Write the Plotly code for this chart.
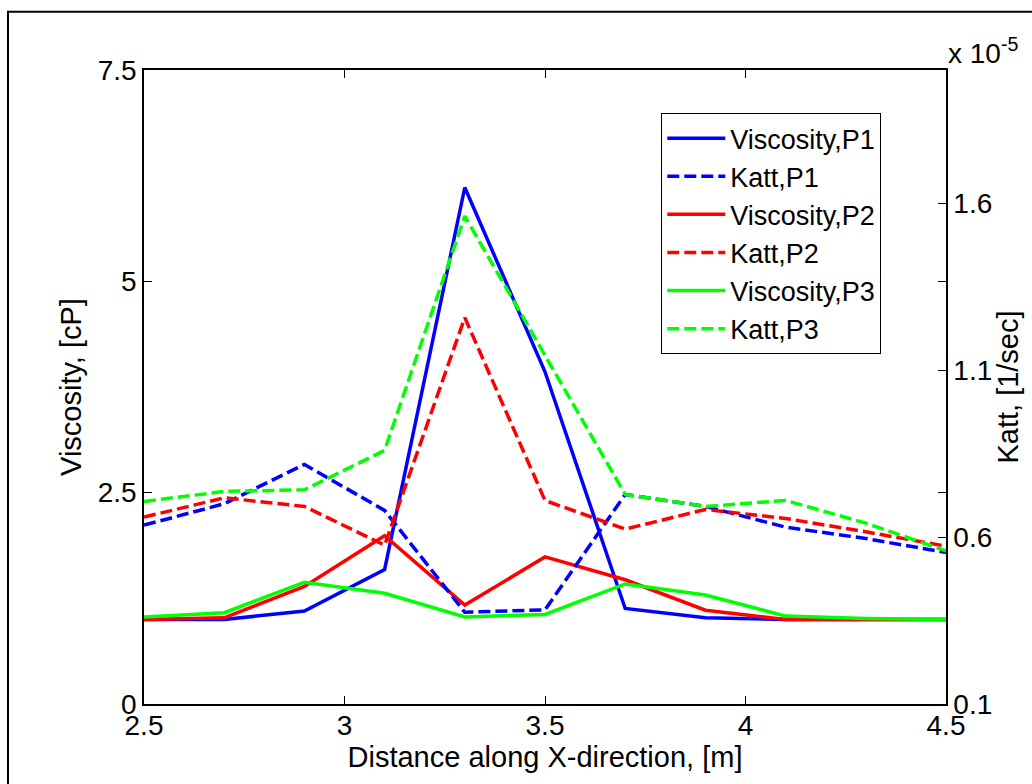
import plotly.graph_objects as go

# Sample positions along the X-direction [m]
distance = [2.5, 2.7, 2.9, 3.1, 3.3, 3.5, 3.7, 3.9, 4.1, 4.3, 4.5]

# Viscosity [cP] for the three profiles
visc_p1 = [1.00, 1.00, 1.10, 1.59, 6.11, 3.93, 1.13, 1.02, 1.00, 1.00, 1.00]
visc_p2 = [1.00, 1.02, 1.39, 1.99, 1.17, 1.74, 1.47, 1.11, 1.00, 1.00, 1.00]
visc_p3 = [1.03, 1.08, 1.44, 1.31, 1.03, 1.06, 1.42, 1.29, 1.04, 1.01, 1.00]

# Attachment rate Katt [1/sec], in units of 1e-5
katt_p1 = [0.636, 0.700, 0.818, 0.680, 0.375, 0.382, 0.728, 0.692, 0.630, 0.596, 0.554]
katt_p2 = [0.660, 0.718, 0.692, 0.576, 1.258, 0.710, 0.624, 0.683, 0.656, 0.616, 0.573]
katt_p3 = [0.707, 0.737, 0.742, 0.860, 1.562, 1.145, 0.728, 0.692, 0.710, 0.642, 0.559]

# Axis ticks
x_ticks = [2.5, 3, 3.5, 4, 4.5]
x_tick_text = ["2.5", "3", "3.5", "4", "4.5"]
visc_ticks = [0, 2.5, 5, 7.5]
visc_tick_text = ["0", "2.5", "5", "7.5"]
katt_ticks = [0.1, 0.6, 1.1, 1.6]
katt_tick_text = ["0.1", "0.6", "1.1", "1.6"]

BLUE, RED, GREEN = "#0000FF", "#FF0000", "#00FF00"
FONT = "Liberation Sans, Arial, sans-serif"
DASH = "12px,5px"
LW = 3.5

fig = go.Figure()

series = [
    ("Viscosity,P1", visc_p1, BLUE, "solid", "y"),
    ("Katt,P1", katt_p1, BLUE, DASH, "y2"),
    ("Viscosity,P2", visc_p2, RED, "solid", "y"),
    ("Katt,P2", katt_p2, RED, DASH, "y2"),
    ("Viscosity,P3", visc_p3, GREEN, "solid", "y"),
    ("Katt,P3", katt_p3, GREEN, DASH, "y2"),
]
for name, vals, color, dash, axis in series:
    fig.add_trace(go.Scatter(
        x=distance, y=vals, name=name, mode="lines", yaxis=axis,
        line=dict(color=color, width=LW, dash=dash),
    ))

axis_common = dict(
    showline=True, linecolor="black", linewidth=1.5,
    ticks="inside", ticklen=8, tickcolor="black", tickwidth=1.2,
    showgrid=False, zeroline=False,
    tickfont=dict(family=FONT, size=28, color="black"),
)

fig.update_layout(
    width=1032, height=784,
    margin=dict(l=144, r=86, t=70, b=80),
    paper_bgcolor="white", plot_bgcolor="white",
    font=dict(family=FONT, color="black"),
    xaxis=dict(
        range=[2.5, 4.5], tickvals=x_ticks, ticktext=x_tick_text,
        mirror="ticks", ticklabelstandoff=-4,
        title=dict(text="Distance along X-direction, [m]",
                   font=dict(family=FONT, size=29, color="black"), standoff=0),
        **axis_common,
    ),
    yaxis=dict(
        range=[0, 7.5], tickvals=visc_ticks, ticktext=visc_tick_text,
        mirror="ticks",
        title=dict(text="Viscosity, [cP]",
                   font=dict(family=FONT, size=29, color="black"), standoff=8),
        **axis_common,
    ),
    yaxis2=dict(
        range=[0.1, 2.0], tickvals=katt_ticks, ticktext=katt_tick_text,
        overlaying="y", side="right",
        title=dict(text="Katt, [1/sec]",
                   font=dict(family=FONT, size=29, color="black"), standoff=6),
        **axis_common,
    ),
    legend=dict(
        x=0.645, y=0.932, xanchor="left", yanchor="top",
        bgcolor="white", bordercolor="black", borderwidth=1,
        font=dict(family=FONT, size=27, color="black"),
        itemwidth=58, tracegroupgap=0,
    ),
    showlegend=True,
)

# Exponent of the Katt axis
fig.add_annotation(
    xref="paper", yref="paper", x=1.0, y=1.03,
    xanchor="left", yanchor="middle", showarrow=False,
    text="x 10<sup>-5</sup>",
    font=dict(family=FONT, size=28, color="black"),
)

# Outer figure frame
fig.add_shape(
    type="rect", xref="paper", yref="paper",
    x0=-0.1696, x1=1.2, y0=-0.2, y1=1.092,
    line=dict(color="black", width=2), fillcolor="rgba(0,0,0,0)", layer="below",
)

fig.write_html("out.html")
